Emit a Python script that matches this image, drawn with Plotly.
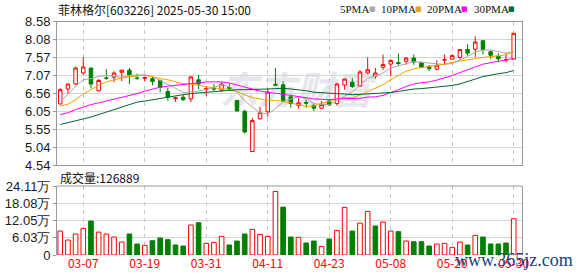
import plotly.graph_objects as go

# ---------------- data ----------------
dates = [
    "2025-03-04", "2025-03-05", "2025-03-06", "2025-03-07", "2025-03-10", "2025-03-11", "2025-03-12",
    "2025-03-13", "2025-03-14", "2025-03-17", "2025-03-18", "2025-03-19", "2025-03-20", "2025-03-21",
    "2025-03-24", "2025-03-25", "2025-03-26", "2025-03-27", "2025-03-28", "2025-03-31",
    "2025-04-01", "2025-04-02", "2025-04-03", "2025-04-07", "2025-04-08", "2025-04-09", "2025-04-10",
    "2025-04-11", "2025-04-14", "2025-04-15", "2025-04-16", "2025-04-17", "2025-04-18", "2025-04-21",
    "2025-04-22", "2025-04-23", "2025-04-24", "2025-04-25", "2025-04-28", "2025-04-29", "2025-04-30",
    "2025-05-06", "2025-05-07", "2025-05-08", "2025-05-09", "2025-05-12", "2025-05-13", "2025-05-14",
    "2025-05-15", "2025-05-16", "2025-05-19", "2025-05-20", "2025-05-21", "2025-05-22", "2025-05-23",
    "2025-05-26", "2025-05-27", "2025-05-28", "2025-05-29", "2025-05-30",
]
open_ = [6.26, 6.68, 6.82, 7.13, 7.27, 6.63, 6.99, 7.01, 7.15, 7.21,
         6.99, 6.98, 6.97, 6.92, 6.61, 6.41, 6.45, 6.40, 6.94, 6.66,
         6.70, 6.65, 6.72, 6.36, 6.05, 4.92, 5.84, 6.04, 6.81, 6.80,
         6.46, 6.22, 6.30, 6.22, 6.14, 6.34, 6.27, 6.79, 6.87, 6.76,
         7.13, 7.04, 7.29, 7.38, 7.42, 7.46, 7.55, 7.43, 7.32, 7.24,
         7.49, 7.52, 7.57, 7.79, 7.80, 8.04, 7.73, 7.60, 7.49, 7.52]
high = [6.71, 6.83, 7.31, 7.58, 7.28, 6.96, 7.24, 7.18, 7.22, 7.27,
        7.11, 7.04, 7.02, 6.94, 6.71, 6.46, 6.52, 7.04, 7.08, 6.76,
        6.82, 6.87, 6.85, 6.37, 6.10, 5.86, 6.18, 6.70, 7.27, 6.90,
        6.52, 6.43, 6.38, 6.29, 6.34, 6.38, 6.85, 6.97, 6.99, 7.21,
        7.57, 7.27, 7.65, 7.52, 7.68, 7.58, 7.65, 7.44, 7.35, 7.49,
        7.65, 7.65, 7.79, 7.94, 8.16, 8.04, 7.76, 7.69, 7.69, 8.26]
low = [6.24, 6.55, 6.79, 7.08, 6.70, 6.61, 6.94, 6.87, 6.90, 6.82,
       6.93, 6.90, 6.78, 6.59, 6.35, 6.32, 6.34, 6.31, 6.68, 6.48,
       6.62, 6.59, 6.64, 6.05, 5.43, 4.91, 5.82, 5.90, 6.76, 6.31,
       6.15, 6.13, 6.15, 6.06, 6.12, 6.21, 6.21, 6.66, 6.71, 6.75,
       7.10, 6.97, 7.22, 7.04, 7.35, 7.36, 7.36, 7.27, 7.18, 7.20,
       7.36, 7.51, 7.51, 7.62, 7.58, 7.65, 7.53, 7.43, 7.43, 7.52]
close = [6.66, 6.82, 7.27, 7.30, 6.82, 6.92, 6.98, 7.13, 7.21, 7.07,
         6.98, 7.00, 6.89, 6.73, 6.45, 6.43, 6.38, 7.02, 6.82, 6.69,
         6.68, 6.82, 6.70, 6.06, 5.47, 5.79, 6.01, 6.59, 6.79, 6.36,
         6.27, 6.29, 6.28, 6.14, 6.24, 6.23, 6.82, 6.96, 6.75, 7.16,
         7.22, 7.13, 7.37, 7.48, 7.40, 7.55, 7.44, 7.29, 7.25, 7.35,
         7.51, 7.62, 7.79, 7.69, 8.00, 7.79, 7.63, 7.53, 7.51, 8.25]

ma5 = [6.34, 6.52, 6.76, 6.94, 6.97, 7.03, 7.06, 7.03, 7.01, 7.06,
       7.07, 7.08, 7.03, 6.93, 6.81, 6.70, 6.58, 6.60, 6.62, 6.67,
       6.72, 6.81, 6.74, 6.59, 6.35, 6.17, 6.01, 5.98, 6.13, 6.31,
       6.40, 6.46, 6.40, 6.27, 6.24, 6.24, 6.34, 6.48, 6.60, 6.78,
       6.98, 7.04, 7.13, 7.27, 7.32, 7.39, 7.45, 7.43, 7.39, 7.38,
       7.37, 7.40, 7.50, 7.59, 7.72, 7.78, 7.78, 7.73, 7.69, 7.74]
ma10 = [6.20, 6.25, 6.38, 6.54, 6.66, 6.79, 6.88, 6.94, 6.99, 7.02,
        7.05, 7.07, 7.03, 6.97, 6.94, 6.89, 6.83, 6.82, 6.78, 6.74,
        6.71, 6.69, 6.67, 6.61, 6.51, 6.44, 6.41, 6.36, 6.36, 6.33,
        6.29, 6.23, 6.19, 6.20, 6.28, 6.32, 6.40, 6.44, 6.43, 6.51,
        6.61, 6.69, 6.80, 6.94, 7.05, 7.18, 7.25, 7.28, 7.33, 7.35,
        7.38, 7.43, 7.47, 7.49, 7.55, 7.57, 7.59, 7.62, 7.64, 7.73]
ma20 = [5.96, 6.01, 6.10, 6.18, 6.24, 6.29, 6.34, 6.38, 6.43, 6.50,
        6.55, 6.62, 6.68, 6.73, 6.76, 6.79, 6.80, 6.83, 6.85, 6.88,
        6.88, 6.88, 6.85, 6.79, 6.72, 6.67, 6.62, 6.59, 6.57, 6.53,
        6.50, 6.46, 6.43, 6.40, 6.39, 6.38, 6.40, 6.40, 6.40, 6.42,
        6.45, 6.46, 6.50, 6.57, 6.66, 6.75, 6.82, 6.86, 6.88, 6.93,
        6.99, 7.06, 7.14, 7.21, 7.30, 7.38, 7.42, 7.45, 7.49, 7.54]
ma30 = [5.68, 5.73, 5.78, 5.82, 5.89, 5.96, 6.03, 6.10, 6.18, 6.24,
        6.31, 6.34, 6.38, 6.41, 6.45, 6.50, 6.52, 6.55, 6.57, 6.59,
        6.62, 6.64, 6.65, 6.66, 6.66, 6.66, 6.67, 6.68, 6.69, 6.70,
        6.68, 6.66, 6.63, 6.59, 6.57, 6.55, 6.55, 6.54, 6.52, 6.53,
        6.54, 6.54, 6.56, 6.58, 6.61, 6.65, 6.68, 6.69, 6.71, 6.73,
        6.76, 6.78, 6.82, 6.88, 6.96, 7.03, 7.08, 7.11, 7.14, 7.20]

volume_wan = [8.37, 5.23, 7.33, 9.30, 11.86, 8.00, 7.33, 6.28, 4.53, 7.33,
              3.84, 3.37, 5.00, 5.93, 5.35, 3.49, 3.14, 10.47, 11.28, 4.07,
              4.42, 6.51, 3.49, 4.88, 7.33, 8.95, 7.21, 6.51, 22.20, 16.74,
              6.28, 6.16, 4.19, 4.88, 3.02, 5.58, 8.60, 16.63, 8.37, 11.16,
              15.23, 10.12, 11.51, 8.37, 8.14, 4.88, 4.65, 4.65, 3.14, 3.84,
              4.07, 2.67, 4.53, 3.49, 6.86, 6.28, 3.84, 3.84, 4.19, 12.69]
volume_up = [1, 1, 1, 1, 0, 1, 1, 1, 1, 0,
             0, 1, 0, 0, 0, 0, 0, 1, 0, 1,
             1, 1, 0, 0, 0, 1, 1, 1, 1, 0,
             0, 1, 0, 0, 1, 0, 1, 1, 0, 1,
             1, 0, 1, 1, 0, 1, 0, 0, 0, 1,
             1, 1, 1, 0, 1, 0, 0, 0, 0, 1]

price_tickvals = [4.54, 5.045, 5.55, 6.055, 6.56, 7.065, 7.57, 8.075, 8.58]
price_ticktext = ["4.54", "5.04", "5.55", "6.05", "6.56", "7.07", "7.57", "8.08", "8.58"]
vol_tickvals = [0, 6.0275, 12.055, 18.0825, 24.11]
vol_ticktext = ["0", "6.03万", "12.05万", "18.08万", "24.11万"]
x_tick_dates = ["03-07", "03-19", "03-31", "04-11", "04-23", "05-08", "05-20", "05-30"]

title_text = "菲林格尔[603226] 2025-05-30 15:00"
vol_title = "成交量:126889"
legend_names = ["5PMA", "10PMA", "20PMA", "30PMA"]
watermark_text = "东方财富"
site_text = "www.365jz.com"

# ---------------- styling ----------------
W, H = 578, 276
L, R = 57, 522
RED = "#ff0000"
GREEN = "#008000"
MA_COLORS = ["#a8a8a8", "#f5a000", "#ff00ff", "#006633"]
GRID = "#d6d6d6"
FRAME = "#999999"
CJK = "Noto Sans CJK SC, Noto Sans, sans-serif"


def px(x):
    return (x - L) / (R - L)


def py(y):
    return 1 - y / H


x = list(range(len(dates)))
x_tickvals = [dates.index("2025-" + d) for d in x_tick_dates]

fig = go.Figure()

fig.add_trace(go.Candlestick(
    x=x, open=open_, high=high, low=low, close=close,
    increasing=dict(line=dict(color=RED, width=1), fillcolor="white"),
    decreasing=dict(line=dict(color=GREEN, width=1), fillcolor=GREEN),
    whiskerwidth=0, xaxis="x", yaxis="y", showlegend=False, hoverinfo="skip",
))

for vals, col in zip([ma5, ma10, ma20, ma30], MA_COLORS):
    fig.add_trace(go.Scatter(x=x, y=vals, mode="lines", line=dict(color=col, width=1),
                             xaxis="x", yaxis="y", showlegend=False, hoverinfo="skip"))

fig.add_trace(go.Bar(
    x=x, y=volume_wan, width=0.6,
    marker=dict(color=["white" if u else GREEN for u in volume_up],
                line=dict(color=[RED if u else GREEN for u in volume_up], width=1)),
    xaxis="x2", yaxis="y2", showlegend=False, hoverinfo="skip",
))

xrange = [-0.42, 60.08]
price_dom = [py(165), py(21.5)]
vol_dom = [py(255), py(186)]

common_x = dict(range=xrange, tickvals=x_tickvals, showgrid=True, gridcolor="#c8c8c8",
                griddash="4px,4px", gridwidth=1, zeroline=False, automargin=False, fixedrange=True)

fig.update_layout(
    width=W, height=H, autosize=False,
    margin=dict(l=L, r=W - R, t=0, b=0, pad=0),
    paper_bgcolor="white", plot_bgcolor="white",
    boxgap=0.35,
    font=dict(family=CJK, size=12, color="#1a1a1a"),
    xaxis=dict(**common_x, domain=[0, 1], anchor="y", showticklabels=False,
               showline=True, mirror=True, linecolor=FRAME, linewidth=1, ticks="",
               rangeslider=dict(visible=False)),
    yaxis=dict(domain=price_dom, range=[4.54, 8.58], tickvals=price_tickvals, ticktext=price_ticktext,
               showgrid=True, gridcolor=GRID, gridwidth=1, zeroline=False,
               showline=True, mirror=True, linecolor=FRAME, linewidth=1,
               ticks="outside", ticklen=3, tickcolor=FRAME,
               tickfont=dict(family="Liberation Sans, Arial, sans-serif", size=13, color="#1a1a1a"),
               automargin=False, fixedrange=True),
    xaxis2=dict(**common_x, domain=[0, 1], anchor="y2", showticklabels=True,
                ticktext=x_tick_dates, showline=False, ticks="",
                tickfont=dict(family=CJK, size=12, color=RED)),
    yaxis2=dict(domain=vol_dom, range=[0, 24.11], tickvals=vol_tickvals, ticktext=vol_ticktext,
                showgrid=True, gridcolor=GRID, gridwidth=1, zeroline=False,
                showline=True, mirror=True, linecolor=FRAME, linewidth=1,
                ticks="outside", ticklen=3, tickcolor=FRAME,
                tickfont=dict(family="Liberation Sans, Arial, sans-serif", size=13, color="#1a1a1a"),
                automargin=False, fixedrange=True),
    showlegend=False,
)

# top border of the volume panel
fig.add_shape(type="line", xref="paper", yref="paper", x0=0, x1=1, y0=vol_dom[1], y1=vol_dom[1],
              line=dict(color=FRAME, width=1))

# faint background watermark in the price panel (drawn beneath the candles)
fig.add_shape(type="rect", xref="paper", yref="paper",
              x0=px(212), x1=px(380), y0=py(114), y1=py(72),
              line=dict(width=0), fillcolor="rgba(0,0,0,0)", layer="below",
              label=dict(text="<i><b>" + watermark_text + "</b></i>", textposition="middle center",
                         font=dict(family=CJK, size=38, color="#e6e6ec")))

ann = []
ann.append(dict(text=title_text, x=px(56), y=py(9), xanchor="left", yanchor="middle",
                font=dict(family=CJK, size=12, color="#111111")))
ann.append(dict(text=vol_title, x=px(58), y=py(177), xanchor="left", yanchor="middle",
                font=dict(family=CJK, size=12, color="#111111")))
leg_text_x = [338, 379, 425, 472]
leg_mark_x = [367, 413, 459, 506]
for name, tx, mx, col in zip(legend_names, leg_text_x, leg_mark_x, MA_COLORS):
    ann.append(dict(text=name, x=px(tx), y=py(9), xanchor="left", yanchor="middle",
                    font=dict(family="Liberation Serif, serif", size=11, color="#111111")))
    ann.append(dict(text="■", x=px(mx), y=py(9), xanchor="left", yanchor="middle",
                    font=dict(family="DejaVu Sans", size=7, color=col)))
ann.append(dict(text=site_text, x=px(453), y=py(260), xanchor="left", yanchor="middle",
                font=dict(family="Liberation Serif, serif", size=18, color="#1b3f7c")))
for a in ann:
    a.update(xref="paper", yref="paper", showarrow=False)
fig.update_layout(annotations=ann)

fig.write_html("out.html", config={"displayModeBar": False})
